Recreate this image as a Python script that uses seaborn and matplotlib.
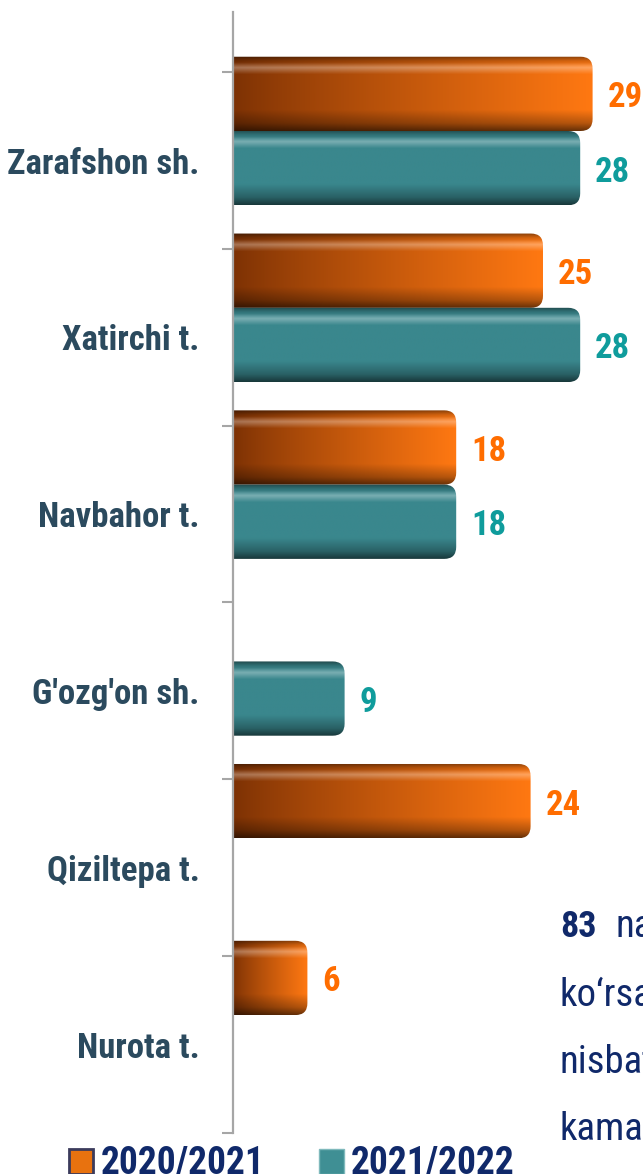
import numpy as np
import pandas as pd
import matplotlib
matplotlib.use('Agg')
import matplotlib.pyplot as plt
import seaborn as sns
from matplotlib.patches import FancyBboxPatch, Patch
from matplotlib.colors import to_rgb

# ---- data ----
regions = ["Zarafshon sh.", "Xatirchi t.", "Navbahor t.", "G'ozg'on sh.", "Qiziltepa t.", "Nurota t."]
years = ["2020/2021", "2021/2022"]
vals_2020_21 = [29, 25, 18, np.nan, 24, 6]
vals_2021_22 = [28, 28, 18, 9, np.nan, np.nan]
note_number = "83"
note_lines = ["nafar", "ko\u2018rsatkich", "nisbatan", "kamaygan"]

df = pd.DataFrame({
    'region': regions * 2,
    'year': [years[0]] * len(regions) + [years[1]] * len(regions),
    'value': vals_2020_21 + vals_2021_22,
}).dropna()

sns.set_theme(style='white')
plt.rcParams['font.family'] = ['Roboto Condensed', 'DejaVu Sans']

bar_colors = ['#d9620c', '#3a868c']
text_colors = ['#ff6d00', '#0f9c9c']
label_color = '#2b4a5e'
navy = '#10296a'
axis_grey = '#a6a6a6'

W, H = 643, 1174
fig = plt.figure(figsize=(W / 100, H / 100), dpi=100)
ax = fig.add_axes([233 / W, 1 - 1133 / H, 410 / W, (1133 - 12) / H])

sns.barplot(data=df, y='region', x='value', hue='year', order=regions, hue_order=years,
            palette=bar_colors, orient='h', width=0.84, errorbar=None, ax=ax)

XLIM = (0, 410 / 12.4)
YLIM = (5.667, -0.673)
ax.set_xlim(*XLIM)
ax.set_ylim(*YLIM)

for s in ['top', 'right', 'bottom']:
    ax.spines[s].set_visible(False)
ax.spines['left'].set_color(axis_grey)
ax.spines['left'].set_linewidth(1.6)
ax.set_xticks([])
ax.set_xlabel('')
ax.set_ylabel('')
ax.set_yticks([i + 0.167 for i in range(len(regions))], labels=regions)
ax.set_yticks([i - 0.334 for i in range(len(regions) + 1)], minor=True)
ax.tick_params(axis='y', which='major', left=False, length=0, pad=24,
               labelsize=25, labelcolor=label_color)
ax.tick_params(axis='y', which='minor', left=True, length=8, width=1.5,
               color=axis_grey, direction='out')
for lab in ax.get_yticklabels():
    lab.set_fontweight('bold')

# pixel scale of the data axes
p0 = ax.transData.transform((0, 0))
px_x = ax.transData.transform((1, 0))[0] - p0[0]
px_y = abs(ax.transData.transform((0, 1))[1] - p0[1])
aspect = px_x / px_y


def bar_image(kind, n=240, m=80):
    xs = np.linspace(0, 1, n)
    ys = np.linspace(0, 1, m)[:, None]
    if kind == 0:
        left = np.array(to_rgb('#7c3104'))
        right = np.array(to_rgb('#ff7812'))
        t = (xs ** 0.85)[None, :, None]
        base = left * (1 - t) + right * t
    else:
        base = np.broadcast_to(np.array(to_rgb('#3a878d')), (1, n, 3))
    shade = np.interp(ys, [0, 0.06, 0.13, 0.72, 0.9, 1.0], [0.55, 0.85, 1.0, 1.0, 0.72, 0.42])
    hl = np.interp(ys, [0, 0.08, 0.15, 0.24, 1.0], [0, 0, 0.32, 0, 0])
    img = base * shade[..., None]
    img = img * (1 - hl[..., None]) + hl[..., None]
    return np.clip(img, 0, 1)


for i, cont in enumerate(ax.containers):
    img = bar_image(i)
    for bar in cont:
        w = bar.get_width()
        bar.set_visible(False)
        if not np.isfinite(w) or w <= 0:
            continue
        y0, h = bar.get_y(), bar.get_height()
        r = 12 / px_x
        clip = FancyBboxPatch((-r, y0), w + r, h,
                              boxstyle=f'round,pad=0,rounding_size={r}',
                              mutation_aspect=aspect, facecolor='none', edgecolor='none')
        ax.add_patch(clip)
        im = ax.imshow(img, extent=(0, w, y0 + h, y0), origin='upper', aspect='auto',
                       interpolation='bilinear', zorder=2)
        im.set_clip_path(clip)
        ax.text(w + 15 / px_x, y0 + h / 2 + 4 / px_y, f'{w:.0f}', color=text_colors[i],
                fontsize=25, fontweight='bold', ha='left', va='center', clip_on=False)

ax.set_xlim(*XLIM)
ax.set_ylim(*YLIM)

# legend
if ax.get_legend() is not None:
    ax.get_legend().remove()
handles = [Patch(facecolor='#e8720f', edgecolor='#3b3b5c', linewidth=2.0),
           Patch(facecolor='#3f8f94', edgecolor='#7fb9bc', linewidth=1.0)]
fig.legend(handles, years, loc='center left', bbox_to_anchor=(69 / W, 1 - 1164 / H),
           ncol=2, frameon=False, prop={'weight': 'bold', 'size': 27}, labelcolor=navy,
           handlelength=0.65, handleheight=0.65, handletextpad=0.2, columnspacing=1.45,
           borderaxespad=0, borderpad=0)

# side note text (cut by the right edge as in the source)
baselines = [937, 1006, 1073, 1140]
fig.text(560 / W, 1 - baselines[0] / H, note_number, fontsize=26, fontweight='bold',
         color=navy, va='baseline', ha='left')
fig.text(615 / W, 1 - baselines[0] / H, note_lines[0], fontsize=28, color=navy,
         va='baseline', ha='left')
for line, yb in zip(note_lines[1:], baselines[1:]):
    fig.text(560 / W, 1 - yb / H, line, fontsize=28, color=navy, va='baseline', ha='left')

fig.savefig('out.png', dpi=100)
